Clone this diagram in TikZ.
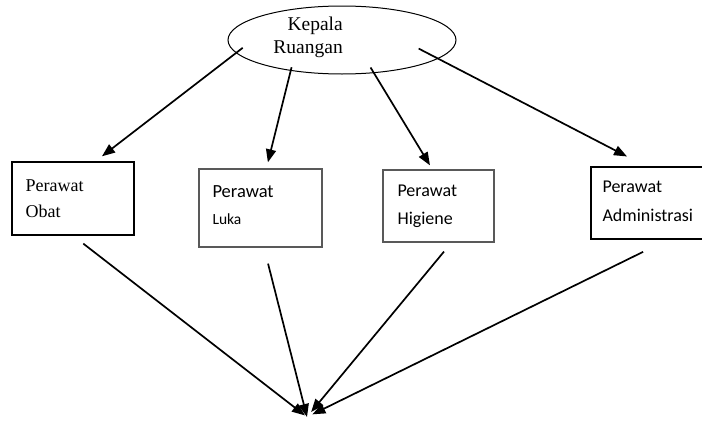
\documentclass[tikz,border=0pt]{standalone}
\usepackage{fontspec}
\setmainfont{Liberation Serif}
\newfontfamily\calibri{Carlito}
\usetikzlibrary{arrows.meta,shapes.geometric,calc}

\tikzset{
  kotak/.style={draw,line width=1.3pt,inner sep=0pt},
  teks/.style={anchor=base west,inner sep=0pt},
  panah/.style={line width=1.7pt,-{Triangle[length=13pt,width=10pt]}},
}

\begin{document}
\begin{tikzpicture}[x=1pt,y=-1pt]
  \useasboundingbox (0,0) rectangle (702,421);

  % kepala ruangan
  \node[draw,ellipse,line width=1pt,minimum width=228pt,minimum height=68pt,inner sep=0pt] (kepala) at (342,40) {};
  \node[anchor=base east,inner sep=0pt,font=\fontsize{19.5}{23}\selectfont] (kepalaA) at (343,30) {Kepala};
  \node[anchor=base east,inner sep=0pt,font=\fontsize{19.5}{23}\selectfont] (kepalaB) at (343,53) {Ruangan};

  % perawat
  \node[kotak,minimum width=122pt,minimum height=73pt] (obat) at (73,198.5) {};
  \node[kotak,draw=black!65,minimum width=123pt,minimum height=78pt] (luka) at (260.5,208) {};
  \node[kotak,draw=black!65,minimum width=111pt,minimum height=72pt] (higiene) at (438.5,206) {};
  \node[kotak,minimum width=122pt,minimum height=72pt] (admin) at (652,203) {};

  \node[teks,font=\fontsize{18}{18}\selectfont] (obatA) at ($(obat.north west)+(14,30)$) {Perawat};
  \node[teks,font=\fontsize{18}{18}\selectfont] (obatB) at ($(obat.north west)+(14,56)$) {Obat};
  \node[teks,font=\calibri\fontsize{18.5}{18}\selectfont] (lukaA) at ($(luka.north west)+(14,29)$) {Perawat};
  \node[teks,font=\calibri\fontsize{15.5}{16}\selectfont] (lukaB) at ($(luka.north west)+(14,56)$) {Luka};
  \node[teks,font=\calibri\fontsize{18}{18}\selectfont] (higieneA) at ($(higiene.north west)+(15,27)$) {Perawat};
  \node[teks,font=\calibri\fontsize{18}{18}\selectfont] (higieneB) at ($(higiene.north west)+(15,55)$) {Higiene};
  \node[teks,font=\calibri\fontsize{18}{18}\selectfont] (adminA) at ($(admin.north west)+(12,26)$) {Perawat};
  \node[teks,font=\calibri\fontsize{18}{18}\selectfont] (adminB) at ($(admin.north west)+(12,55)$) {Administrasi};

  \coordinate (ujung) at (307,417);

  % dari kepala ke perawat
  \draw[panah,shorten <=-8.5pt,shorten >=8.3pt] (kepala.187.7) -- ([xshift=22.4pt]obat.north);
  \draw[panah,shorten <=-3.7pt,shorten >=6.2pt] (kepala.211.5) -- ([xshift=5.9pt]luka.north);
  \draw[panah,shorten <=-6.6pt,shorten >=4.7pt] (kepala.314.8) -- ([xshift=-6.1pt]higiene.north);
  \draw[panah,shorten <=-22pt,shorten >=21.5pt] (kepala.349.3) -- ([xshift=-5.9pt]admin.north);

  % dari perawat ke bawah
  \draw[panah,shorten <=13pt,shorten >=2.6pt] (obat.south) -- (ujung);
  \draw[panah,shorten <=16.5pt] ([xshift=3.5pt]luka.south) -- (ujung);
  \draw[panah,shorten <=11.6pt,shorten >=6.5pt] ([xshift=12.9pt]higiene.south) -- (ujung);
  \draw[panah,shorten <=27.6pt,shorten >=6pt] ([xshift=15.9pt]admin.south) -- (ujung);
\end{tikzpicture}
\end{document}
